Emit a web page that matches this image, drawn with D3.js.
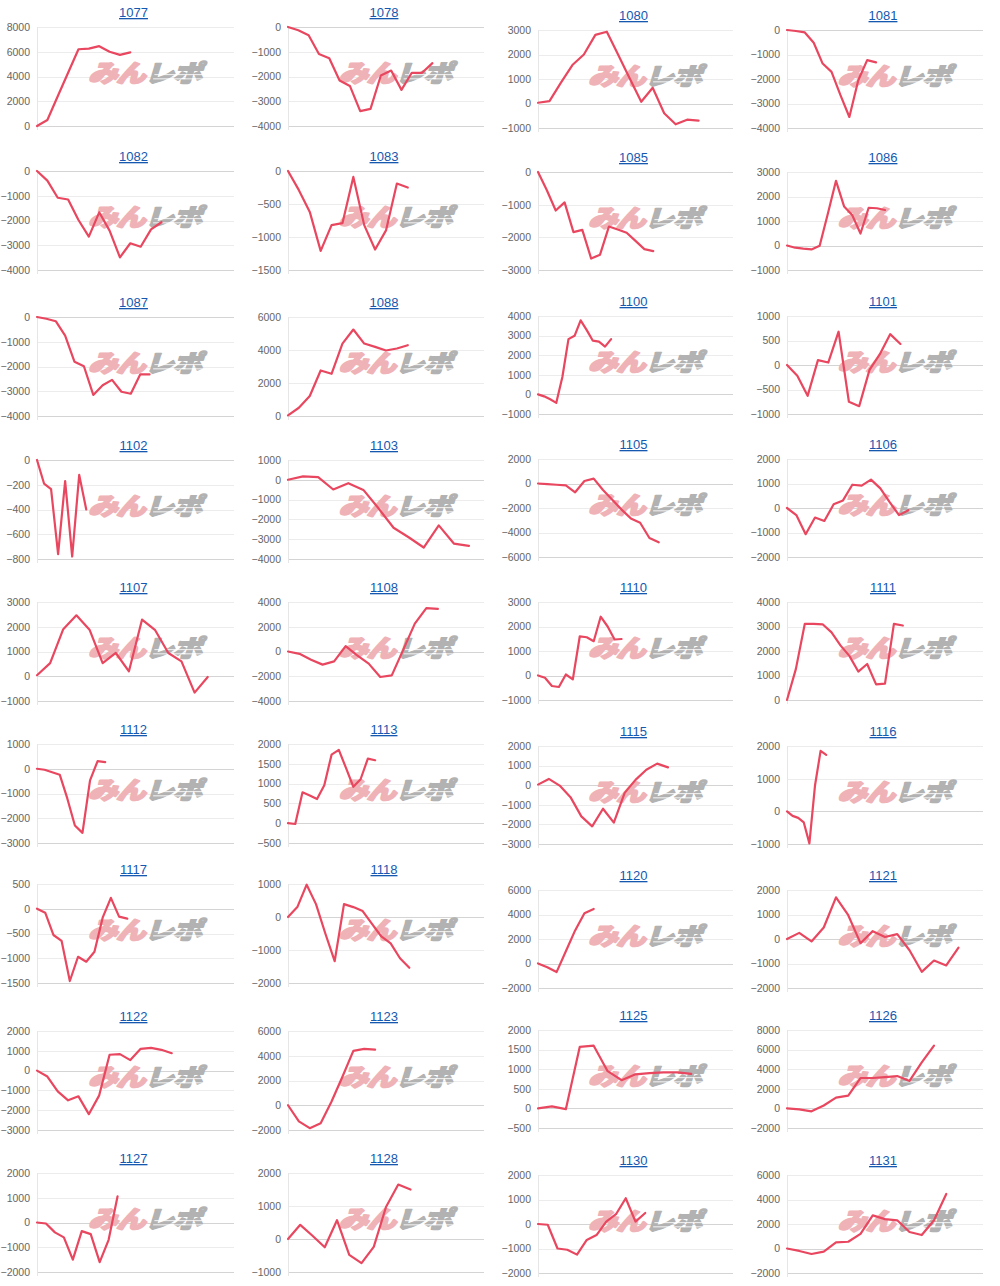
<!DOCTYPE html>
<html>
<head>
<meta charset="utf-8">
<script src="https://cdn.jsdelivr.net/npm/d3@7"></script>
<style>
  body { margin: 0; background: #fff; }
  svg { display: block; }
</style>
</head>
<body>
<script>
const width = 1000;
const height = 1286;

// chart ids, in page order (4 per row)
const ids = ['1077','1078','1080','1081','1082','1083','1085','1086','1087','1088','1100','1101',
  '1102','1103','1105','1106','1107','1108','1110','1111','1112','1113','1115','1116',
  '1117','1118','1120','1121','1122','1123','1125','1126','1127','1128','1130','1131'];

// y axis ticks per chart: min, max, step
const yMin  = [0,-4000,-1000,-4000, -4000,-1500,-3000,-1000, -4000,0,-1000,-1000,
  -800,-4000,-6000,-2000, -1000,-4000,-1000,0, -3000,-500,-3000,-1000,
  -1500,-2000,-2000,-2000, -3000,-2000,-500,-2000, -2000,-1000,-2000,-2000];
const yMax  = [8000,0,3000,0, 0,0,0,3000, 0,6000,4000,1000,
  0,1000,2000,2000, 3000,4000,3000,4000, 1000,2000,2000,2000,
  500,1000,6000,2000, 2000,6000,2000,8000, 2000,2000,2000,6000];
const yStep = [2000,1000,1000,1000, 1000,500,1000,1000, 1000,2000,1000,500,
  200,1000,2000,1000, 1000,2000,1000,1000, 1000,500,1000,1000,
  500,1000,2000,1000, 1000,2000,500,2000, 1000,1000,1000,2000];

// number of x categories on each chart
const xSlots = [20,20,18,23, 20,19,23,25, 22,19,33,20,
  29,14,22,22, 16,18,29,23, 27,28,19,36,
  25,22,22,17, 20,19,15,17, 23,17,21,17];

// series values
const s1077 = [0, 480, 2400, 4300, 6200, 6250, 6450, 6000, 5750, 5950];
const s1078 = [0, -130, -330, -1090, -1260, -2160, -2380, -3400, -3310, -1960, -1760, -2540, -1850, -1850, -1460];
const s1080 = [30, 100, 850, 1570, 2000, 2800, 2930, 1980, 1020, 70, 640, -400, -850, -660, -700];
const s1081 = [0, -40, -100, -520, -1370, -1710, -2660, -3550, -2050, -1230, -1320];
const s1082 = [0, -390, -1080, -1150, -1980, -2650, -1670, -2410, -3490, -2920, -3060, -2360, -2070];
const s1083 = [0, -290, -620, -1210, -820, -790, -90, -820, -1190, -900, -190, -250];
const s1085 = [0, -560, -1180, -930, -1840, -1770, -2650, -2530, -1670, -1760, -1860, -2110, -2360, -2420];
const s1086 = [0, -90, -130, -160, -10, 1300, 2640, 1590, 1230, 490, 1540, 1520, 1450];
const s1087 = [0, -70, -170, -750, -1810, -1990, -3150, -2760, -2540, -3020, -3100, -2320, -2320];
const s1088 = [40, 500, 1210, 2760, 2560, 4390, 5240, 4390, 4190, 3970, 4090, 4290];
const s1100 = [0, -100, -250, -430, 890, 2820, 2990, 3780, 3280, 2740, 2690, 2440, 2820];
const s1101 = [0, -220, -630, 100, 50, 680, -750, -840, -100, 220, 630, 430];
const s1102 = [0, -190, -235, -760, -170, -780, -120, -400];
const s1103 = [0, 170, 140, -490, -170, -510, -1440, -2420, -2900, -3420, -2300, -3220, -3340];
const s1105 = [0, -50, -100, -150, -720, 200, 400, -530, -1330, -2130, -2850, -3200, -4450, -4800];
const s1106 = [0, -290, -1070, -390, -530, 150, 310, 950, 910, 1160, 800, 240, -290, -90];
const s1107 = [40, 530, 1900, 2460, 1880, 530, 940, 200, 2290, 1860, 940, 600, -660, -30];
const s1108 = [0, -190, -660, -1060, -800, 440, -310, -980, -2060, -1930, 150, 2250, 3510, 3450];
const s1110 = [0, -90, -430, -470, 40, -160, 1600, 1560, 1400, 2400, 2000, 1470, 1490];
const s1111 = [0, 1270, 3110, 3110, 3090, 2760, 2230, 1800, 1160, 1470, 640, 670, 3110, 3040];
const s1112 = [0, -40, -140, -240, -1200, -2290, -2590, -470, 310, 270];
const s1113 = [0, -20, 780, 700, 610, 960, 1730, 1850, 1390, 920, 1110, 1630, 1590];
const s1115 = [30, 320, -20, -610, -1590, -2100, -1200, -1910, -390, 270, 790, 1100, 910];
const s1116 = [0, -140, -200, -340, -980, 790, 1850, 1730];
const s1117 = [0, -80, -530, -650, -1460, -970, -1070, -870, -180, 220, -160, -200];
const s1118 = [0, 300, 980, 390, -500, -1340, 390, 300, 180, -210, -590, -800, -1250, -1540];
const s1120 = [0, -300, -700, 1000, 2700, 4100, 4450];
const s1121 = [0, 250, -100, 470, 1700, 970, -170, 320, 80, 200, -460, -1340, -880, -1080, -350];
const s1122 = [0, -300, -1050, -1500, -1300, -2200, -1250, 800, 830, 530, 1100, 1150, 1050, 880];
const s1123 = [0, -1300, -1850, -1450, 300, 2300, 4400, 4550, 4500];
const s1125 = [0, 50, -20, 1570, 1600, 950, 720, 870, 900, 920, 920, 880];
const s1126 = [0, -100, -300, 300, 1100, 1300, 3100, 3100, 3200, 3300, 2800, 4700, 6400];
const s1127 = [0, -40, -400, -600, -1500, -350, -470, -1600, -700, 1060];
const s1128 = [0, 430, 100, -250, 570, -480, -730, -240, 970, 1650, 1500];
const s1130 = [0, -30, -1000, -1050, -1250, -650, -450, 100, 400, 1050, 100, 450];
const s1131 = [0, -200, -450, -250, 500, 550, 1200, 2700, 2400, 2300, 1350, 1100, 2300, 4450];

const seriesList = [s1077, s1078, s1080, s1081, s1082, s1083, s1085, s1086, s1087, s1088, s1100, s1101,
  s1102, s1103, s1105, s1106, s1107, s1108, s1110, s1111, s1112, s1113, s1115, s1116,
  s1117, s1118, s1120, s1121, s1122, s1123, s1125, s1126, s1127, s1128, s1130, s1131];

// layout of the grid
const colLeft  = [37, 288, 538, 787];
const colRight = [234, 484, 733, 983];
const leftTop  = [27, 171, 317, 460, 602, 744, 884, 1031, 1173];
const rightTop = [30, 172, 316, 459, 602, 746, 890, 1030, 1175];

const lineColor = '#e8475f';
const font = '"Helvetica Neue", Arial, "Liberation Sans", sans-serif';

const svg = d3.select('body')
  .append('svg')
  .attr('width', width)
  .attr('height', height);

ids.forEach((id, i) => {
  const row = Math.floor(i / 4);
  const col = i % 4;
  const top = col < 2 ? leftTop[row] : rightTop[row];
  const bottom = top + (col < 2 ? 99 : 98);
  const left = colLeft[col];
  const right = colRight[col];

  const xScale = d3.scaleLinear()
    .domain([0, xSlots[i] - 1])
    .range([left, right]);
  const yScale = d3.scaleLinear()
    .domain([yMin[i], yMax[i]])
    .range([bottom, top]);
  const ticks = d3.range(yMin[i], yMax[i] + yStep[i] / 2, yStep[i]);

  const g = svg.append('g').attr('class', 'panel');

  // title
  g.append('text')
    .attr('x', (left + right) / 2 - 2)
    .attr('y', top - 10)
    .attr('text-anchor', 'middle')
    .attr('font-family', font)
    .attr('font-size', 13)
    .attr('fill', '#1558b0')
    .attr('text-decoration', 'underline')
    .text(id);

  // y axis with grid lines
  const yAxis = d3.axisLeft(yScale)
    .tickValues(ticks)
    .tickSize(0)
    .tickPadding(7)
    .tickFormat(d3.format('d'));
  const axis_g = g.append('g')
    .attr('transform', 'translate(' + left + ',0)')
    .call(yAxis);
  axis_g.select('.domain').remove();
  axis_g.selectAll('text')
    .attr('font-family', font)
    .attr('font-size', 10.5)
    .attr('fill', '#666');

  g.append('g')
    .selectAll('line')
    .data(ticks)
    .join('line')
    .attr('x1', left)
    .attr('x2', right)
    .attr('y1', d => Math.round(yScale(d)) + 0.5)
    .attr('y2', d => Math.round(yScale(d)) + 0.5)
    .attr('stroke', d => (d === 0 || d === yMin[i]) ? '#d4d4d4' : '#ececec')
    .attr('stroke-width', 1);

  g.append('line')
    .attr('x1', left + 0.5)
    .attr('x2', left + 0.5)
    .attr('y1', top)
    .attr('y2', bottom + 4)
    .attr('stroke', '#e6e6e6');

  // watermark
  const wx = (left + right) / 2 + 9;
  const wy = top + 55;
  const wm = g.append('g')
    .attr('transform', 'translate(' + wx + ',' + wy + ') scale(1.28,1.05) skewX(-14)');
  const wt = wm.append('text')
    .attr('text-anchor', 'middle')
    .attr('font-family', '"Noto Sans CJK JP", sans-serif')
    .attr('font-weight', 900)
    .attr('font-size', 23)
    .attr('letter-spacing', -1)
    .attr('stroke-linejoin', 'round');
  wt.append('tspan').attr('fill', '#efb3b7').attr('stroke', '#efb3b7').attr('stroke-width', 1.8).text('みん');
  wt.append('tspan').attr('fill', '#b2b2b2').attr('stroke', '#b2b2b2').attr('stroke-width', 1.4).text('レポ');
  [-7, -3].forEach(dy => {
    wm.append('line')
      .attr('x1', 6).attr('x2', 50)
      .attr('y1', dy).attr('y2', dy)
      .attr('stroke', '#fff')
      .attr('stroke-width', 0.7);
  });

  // series line
  const line = d3.line()
    .x((d, k) => xScale(k))
    .y(d => yScale(d));
  g.append('path')
    .datum(seriesList[i])
    .attr('d', line)
    .attr('fill', 'none')
    .attr('stroke', lineColor)
    .attr('stroke-width', 2.2)
    .attr('stroke-linejoin', 'round')
    .attr('stroke-linecap', 'round');
});
</script>
</body>
</html>
